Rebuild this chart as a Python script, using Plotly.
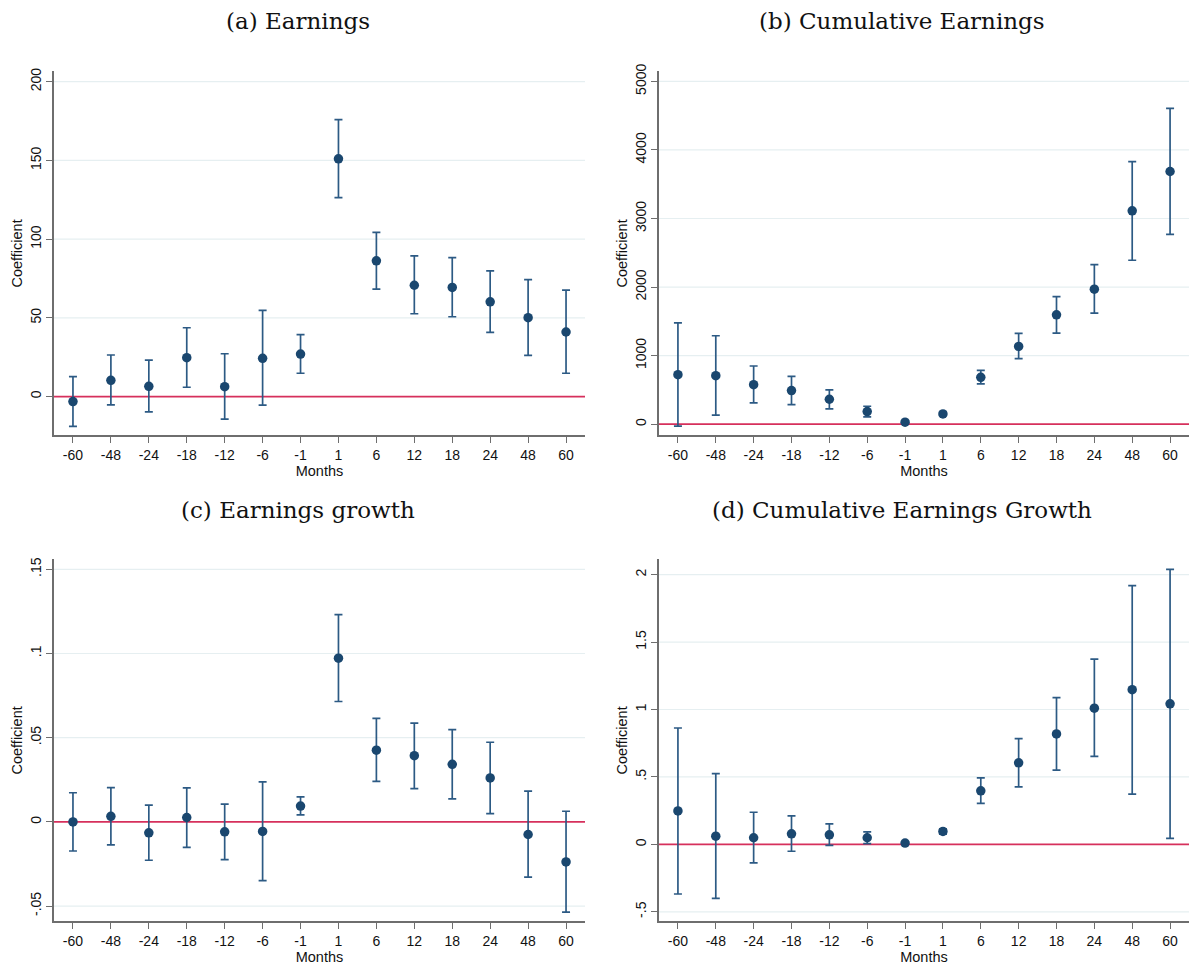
import plotly.graph_objects as go

months = ["-60", "-48", "-24", "-18", "-12", "-6", "-1", "1", "6", "12", "18", "24", "48", "60"]

# (a) Earnings
earn_b = [-3.2, 10.3, 6.5, 24.7, 6.3, 24.3, 27.0, 151.0, 86.2, 70.7, 69.3, 60.2, 50.1, 41.0]
earn_hi = [12.7, 26.4, 23.2, 43.7, 27.2, 54.7, 39.3, 175.9, 104.3, 89.3, 88.3, 79.8, 74.3, 67.6]
earn_lo = [-19.0, -5.3, -9.7, 5.9, -14.4, -5.5, 14.8, 126.3, 68.2, 52.6, 50.7, 40.8, 26.2, 14.8]

# (b) Cumulative Earnings
cum_b = [722, 708, 577, 490, 364, 184, 29, 150, 684, 1135, 1596, 1969, 3113, 3686]
cum_hi = [1479, 1290, 849, 698, 500, 262, 48, 175, 786, 1324, 1862, 2328, 3831, 4607]
cum_lo = [-29, 131, 310, 286, 223, 107, 10, 126, 587, 955, 1329, 1620, 2391, 2769]

# (c) Earnings growth
gr_b = [0.0, 0.0033, -0.0065, 0.0026, -0.0059, -0.0057, 0.0094, 0.0972, 0.0426, 0.0393, 0.0342, 0.0261, -0.0075, -0.0238]
gr_hi = [0.0173, 0.0204, 0.0100, 0.0202, 0.0106, 0.0238, 0.0149, 0.1231, 0.0615, 0.0587, 0.0548, 0.0473, 0.0183, 0.0063]
gr_lo = [-0.0173, -0.0137, -0.0228, -0.0151, -0.0224, -0.0349, 0.0041, 0.0715, 0.0241, 0.0198, 0.0137, 0.0049, -0.0328, -0.0536]

# (d) Cumulative Earnings Growth
cg_b = [0.248, 0.061, 0.049, 0.078, 0.071, 0.049, 0.010, 0.096, 0.397, 0.605, 0.819, 1.010, 1.147, 1.042]
cg_hi = [0.863, 0.525, 0.238, 0.211, 0.152, 0.093, 0.020, 0.115, 0.493, 0.784, 1.088, 1.373, 1.919, 2.039]
cg_lo = [-0.368, -0.400, -0.137, -0.051, -0.007, 0.005, 0.000, 0.076, 0.304, 0.426, 0.551, 0.652, 0.373, 0.044]

titles = ["(a) Earnings", "(b) Cumulative Earnings", "(c) Earnings growth", "(d) Cumulative Earnings Growth"]

panels = [
    dict(b=earn_b, hi=earn_hi, lo=earn_lo, tickvals=[0, 50, 100, 150, 200],
         ticktext=["0", "50", "100", "150", "200"], yr=[-24.7, 206.5]),
    dict(b=cum_b, hi=cum_hi, lo=cum_lo, tickvals=[0, 1000, 2000, 3000, 4000, 5000],
         ticktext=["0", "1000", "2000", "3000", "4000", "5000"], yr=[-164, 5145]),
    dict(b=gr_b, hi=gr_hi, lo=gr_lo, tickvals=[-0.05, 0, 0.05, 0.1, 0.15],
         ticktext=["-.05", "0", ".05", ".1", ".15"], yr=[-0.0591, 0.1559]),
    dict(b=cg_b, hi=cg_hi, lo=cg_lo, tickvals=[-0.5, 0, 0.5, 1, 1.5, 2],
         ticktext=["-.5", "0", ".5", "1", "1.5", "2"], yr=[-0.571, 2.113]),
]

W, H = 1189, 967
xdoms = [[54 / W, 585 / W], [659 / W, 1.0]]
ydoms = [[1 - 431 / H, 1 - 64 / H], [1 - 921 / H, 1 - 556 / H]]

NAVY = "#1a476f"
BAR = "#2c5a84"
RED = "#d6305c"
AXC = "#6e6e6e"
GRID = "#e6eff1"
TICKF = dict(family="Liberation Sans, Arial, sans-serif", size=14, color="#111111")
TITLEF = dict(family="Liberation Sans, Arial, sans-serif", size=14.5, color="#111111")

fig = go.Figure()
layout = {}
annotations = []
shapes = []

for i, p in enumerate(panels):
    r, c = divmod(i, 2)
    k = "" if i == 0 else str(i + 1)
    xa, ya = "x" + k, "y" + k
    plus = [h - b for h, b in zip(p["hi"], p["b"])]
    minus = [b - l for b, l in zip(p["b"], p["lo"])]
    fig.add_trace(go.Scatter(
        x=months, y=p["b"], mode="markers", xaxis=xa, yaxis=ya,
        marker=dict(color=NAVY, size=9.5),
        error_y=dict(type="data", array=plus, arrayminus=minus, symmetric=False,
                     color=BAR, thickness=1.7, width=4),
        showlegend=False, hoverinfo="x+y"))
    layout["xaxis" + k] = dict(
        domain=xdoms[c], anchor=ya, type="category", range=[-0.5, 13.5],
        showline=True, linecolor=AXC, linewidth=1.5, ticks="outside", ticklen=6,
        tickcolor=AXC, tickwidth=1.2, showgrid=False, zeroline=False,
        tickfont=TICKF, title=dict(text="Months", font=TITLEF, standoff=2),
        fixedrange=True)
    layout["yaxis" + k] = dict(
        domain=ydoms[r], anchor=xa, range=p["yr"], tickvals=p["tickvals"],
        ticktext=p["ticktext"], tickangle=-90, showline=True, linecolor=AXC,
        linewidth=1.5, ticks="outside", ticklen=6, tickcolor=AXC, tickwidth=1.2,
        showgrid=False, zeroline=False,
        tickfont=TICKF, title=dict(text="Coefficient", font=TITLEF, standoff=2),
        fixedrange=True)
    # light horizontal gridlines (except zero), then the red zero reference line
    for tv in p["tickvals"]:
        if tv != 0:
            shapes.append(dict(type="line", xref=xa, yref=ya, x0=-0.5, x1=13.5, y0=tv, y1=tv,
                               line=dict(color=GRID, width=1.2), layer="below"))
    shapes.append(dict(type="line", xref=xa, yref=ya, x0=-0.5, x1=13.5, y0=0, y1=0,
                       line=dict(color=RED, width=1.7), layer="below"))
    cx = 297.5 / W if c == 0 else 902 / W
    ty = 1 - 13 / H if r == 0 else 1 - 506 / H
    annotations.append(dict(text=titles[i], x=cx, y=ty, xref="paper", yref="paper",
                            xanchor="center", yanchor="middle", showarrow=False,
                            font=dict(family="DejaVu Serif, serif", size=23, color="#111111")))

fig.update_layout(**layout)
fig.update_layout(width=W, height=H, margin=dict(l=0, r=0, t=0, b=0),
                  paper_bgcolor="white", plot_bgcolor="white",
                  annotations=annotations, shapes=shapes)

fig.write_html("out.html", include_plotlyjs=True, config={"displayModeBar": False},
               post_script="document.body.style.margin='0px';document.body.style.overflow='hidden';")
